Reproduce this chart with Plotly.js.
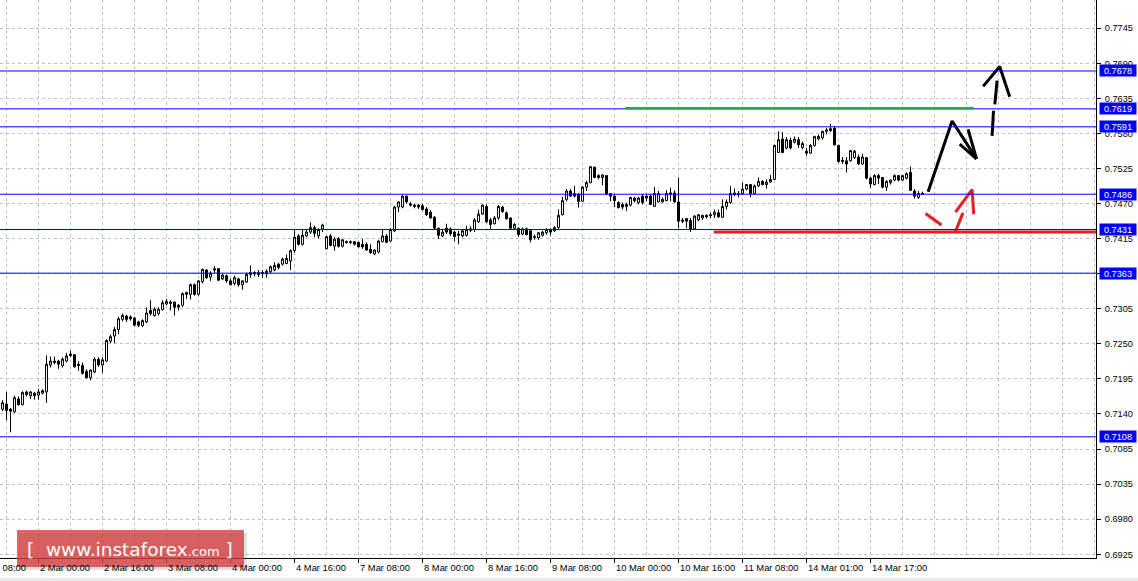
<!DOCTYPE html>
<html>
<head>
<meta charset="utf-8">
<script src="https://cdn.plot.ly/plotly-3.0.1.min.js"></script>
<style>html,body{margin:0;padding:0;background:#fff;}#chart{width:1138px;height:581px;}</style>
</head>
<body>
<div id="chart"></div>
<script>
// ---- hourly OHLC (bar 0 = 1 Mar 15:00) ----
const opens = [
0.7151,0.7159,0.7151,0.7147,0.7167,0.7158,0.7178,0.7172,0.7176,0.7173,
0.7176,0.7178,0.7220,0.7226,0.7226,0.7219,0.7226,0.7237,0.7236,0.7221,
0.7219,0.7210,0.7200,0.7209,0.7229,0.7220,0.7226,0.7257,0.7265,0.7275,
0.7291,0.7296,0.7295,0.7293,0.7287,0.7281,0.7287,0.7305,0.7297,0.7300,
0.7306,0.7315,0.7318,0.7318,0.7313,0.7313,0.7330,0.7330,0.7345,0.7330,
0.7350,0.7368,0.7357,0.7370,0.7370,0.7354,0.7359,0.7351,0.7347,0.7354,
0.7345,0.7349,0.7364,0.7364,0.7364,0.7364,0.7362,0.7365,0.7368,0.7377,
0.7377,0.7378,0.7382,0.7398,0.7421,0.7408,0.7421,0.7427,0.7434,0.7421,
0.7432,0.7401,0.7421,0.7405,0.7417,0.7405,0.7412,0.7412,0.7412,0.7411,
0.7408,0.7408,0.7400,0.7393,0.7396,0.7412,0.7421,0.7413,0.7429,0.7466,
0.7466,0.7483,0.7471,0.7469,0.7469,0.7468,0.7463,0.7458,0.7450,0.7433,
0.7421,0.7433,0.7432,0.7427,0.7424,0.7421,0.7422,0.7432,0.7431,0.7443,
0.7455,0.7467,0.7446,0.7440,0.7449,0.7466,0.7457,0.7449,0.7433,0.7433,
0.7424,0.7432,0.7429,0.7420,0.7418,0.7422,0.7426,0.7431,0.7429,0.7434,
0.7454,0.7478,0.7491,0.7487,0.7486,0.7475,0.7497,0.7504,0.7528,0.7515,
0.7512,0.7515,0.7487,0.7483,0.7473,0.7470,0.7467,0.7469,0.7480,0.7473,
0.7483,0.7480,0.7483,0.7467,0.7474,0.7474,0.7476,0.7486,0.7488,0.7474,
0.7446,0.7448,0.7445,0.7432,0.7446,0.7449,0.7453,0.7454,0.7454,0.7457,
0.7450,0.7467,0.7473,0.7488,0.7486,0.7487,0.7494,0.7501,0.7487,0.7499,
0.7506,0.7501,0.7505,0.7509,0.7551,0.7572,0.7558,0.7570,0.7567,0.7571,
0.7559,0.7553,0.7550,0.7562,0.7572,0.7574,0.7584,0.7588,0.7589,0.7562,
0.7537,0.7538,0.7538,0.7543,0.7544,0.7533,0.7543,0.7511,0.7501,0.7515,
0.7512,0.7497,0.7504,0.7508,0.7515,0.7508,0.7511,0.7520,0.7491,0.7481,
0.7486];
const highs = [
0.7165,0.7178,0.7153,0.7172,0.7171,0.7179,0.7180,0.7179,0.7178,0.7183,
0.7182,0.7235,0.7233,0.7233,0.7228,0.7232,0.7239,0.7242,0.7237,0.7226,
0.7224,0.7213,0.7213,0.7232,0.7232,0.7232,0.7260,0.7267,0.7279,0.7295,
0.7300,0.7298,0.7297,0.7295,0.7289,0.7291,0.7310,0.7321,0.7310,0.7310,
0.7321,0.7323,0.7321,0.7319,0.7315,0.7333,0.7334,0.7347,0.7347,0.7352,
0.7370,0.7369,0.7366,0.7374,0.7371,0.7363,0.7361,0.7354,0.7359,0.7356,
0.7352,0.7364,0.7375,0.7366,0.7368,0.7368,0.7369,0.7375,0.7380,0.7379,
0.7387,0.7392,0.7400,0.7431,0.7424,0.7431,0.7432,0.7442,0.7437,0.7433,
0.7440,0.7421,0.7424,0.7419,0.7419,0.7416,0.7414,0.7414,0.7413,0.7412,
0.7416,0.7411,0.7408,0.7400,0.7415,0.7431,0.7424,0.7433,0.7468,0.7475,
0.7485,0.7484,0.7474,0.7471,0.7471,0.7471,0.7466,0.7461,0.7452,0.7434,
0.7432,0.7440,0.7434,0.7429,0.7429,0.7432,0.7437,0.7436,0.7449,0.7462,
0.7470,0.7470,0.7449,0.7452,0.7469,0.7468,0.7459,0.7450,0.7441,0.7434,
0.7434,0.7434,0.7431,0.7423,0.7427,0.7429,0.7433,0.7433,0.7436,0.7462,
0.7482,0.7494,0.7494,0.7499,0.7488,0.7499,0.7507,0.7530,0.7529,0.7517,
0.7517,0.7516,0.7488,0.7486,0.7475,0.7473,0.7473,0.7482,0.7482,0.7482,
0.7486,0.7486,0.7486,0.7497,0.7491,0.7481,0.7492,0.7496,0.7492,0.7512,
0.7449,0.7449,0.7449,0.7453,0.7455,0.7454,0.7455,0.7457,0.7462,0.7462,
0.7478,0.7478,0.7499,0.7495,0.7491,0.7504,0.7502,0.7502,0.7501,0.7512,
0.7508,0.7509,0.7516,0.7563,0.7584,0.7583,0.7575,0.7574,0.7576,0.7575,
0.7568,0.7558,0.7564,0.7577,0.7579,0.7585,0.7589,0.7596,0.7592,0.7563,
0.7544,0.7544,0.7555,0.7555,0.7548,0.7549,0.7544,0.7513,0.7517,0.7518,
0.7513,0.7508,0.7509,0.7517,0.7516,0.7516,0.7520,0.7529,0.7494,0.7491,
0.7490];
const lows = [
0.7148,0.7134,0.7115,0.7145,0.7157,0.7157,0.7171,0.7167,0.7166,0.7166,
0.7174,0.7161,0.7216,0.7221,0.7214,0.7216,0.7224,0.7232,0.7216,0.7211,
0.7205,0.7199,0.7196,0.7207,0.7217,0.7208,0.7225,0.7254,0.7254,0.7268,
0.7288,0.7287,0.7289,0.7280,0.7279,0.7279,0.7285,0.7297,0.7295,0.7297,
0.7305,0.7313,0.7305,0.7297,0.7305,0.7310,0.7323,0.7322,0.7328,0.7328,
0.7347,0.7354,0.7351,0.7363,0.7351,0.7352,0.7348,0.7344,0.7344,0.7342,
0.7337,0.7348,0.7356,0.7358,0.7357,0.7356,0.7356,0.7363,0.7366,0.7369,
0.7375,0.7377,0.7368,0.7395,0.7406,0.7406,0.7419,0.7424,0.7419,0.7417,
0.7427,0.7400,0.7405,0.7398,0.7403,0.7403,0.7409,0.7408,0.7406,0.7403,
0.7401,0.7398,0.7393,0.7391,0.7394,0.7411,0.7410,0.7412,0.7427,0.7458,
0.7464,0.7471,0.7467,0.7464,0.7463,0.7461,0.7452,0.7448,0.7432,0.7416,
0.7419,0.7424,0.7421,0.7413,0.7408,0.7419,0.7420,0.7427,0.7427,0.7441,
0.7454,0.7441,0.7432,0.7439,0.7446,0.7457,0.7446,0.7432,0.7431,0.7420,
0.7422,0.7422,0.7411,0.7415,0.7415,0.7420,0.7423,0.7422,0.7427,0.7432,
0.7453,0.7475,0.7482,0.7481,0.7465,0.7474,0.7491,0.7503,0.7511,0.7509,
0.7500,0.7485,0.7475,0.7466,0.7464,0.7462,0.7460,0.7467,0.7473,0.7470,
0.7470,0.7475,0.7469,0.7466,0.7473,0.7473,0.7475,0.7475,0.7473,0.7433,
0.7441,0.7433,0.7427,0.7431,0.7444,0.7446,0.7448,0.7449,0.7449,0.7449,
0.7449,0.7462,0.7471,0.7483,0.7481,0.7485,0.7492,0.7481,0.7486,0.7497,
0.7500,0.7495,0.7504,0.7508,0.7550,0.7550,0.7556,0.7556,0.7565,0.7558,
0.7556,0.7546,0.7549,0.7560,0.7570,0.7571,0.7579,0.7583,0.7562,0.7535,
0.7533,0.7520,0.7537,0.7541,0.7532,0.7532,0.7509,0.7496,0.7500,0.7502,
0.7495,0.7491,0.7501,0.7506,0.7506,0.7507,0.7509,0.7491,0.7479,0.7479,
0.7485];
const closes = [
0.7161,0.7149,0.7148,0.7169,0.7158,0.7177,0.7174,0.7178,0.7172,0.7178,
0.7180,0.7221,0.7226,0.7224,0.7221,0.7229,0.7234,0.7235,0.7217,0.7219,
0.7207,0.7200,0.7212,0.7229,0.7220,0.7228,0.7258,0.7264,0.7275,0.7292,
0.7297,0.7291,0.7292,0.7282,0.7282,0.7289,0.7301,0.7300,0.7307,0.7307,
0.7317,0.7319,0.7316,0.7310,0.7310,0.7331,0.7333,0.7345,0.7330,0.7351,
0.7369,0.7356,0.7363,0.7368,0.7352,0.7360,0.7351,0.7345,0.7356,0.7345,
0.7351,0.7361,0.7361,0.7362,0.7361,0.7362,0.7366,0.7373,0.7375,0.7372,
0.7385,0.7386,0.7398,0.7419,0.7408,0.7422,0.7427,0.7434,0.7425,0.7431,
0.7438,0.7420,0.7406,0.7416,0.7405,0.7415,0.7411,0.7411,0.7408,0.7404,
0.7404,0.7399,0.7395,0.7399,0.7413,0.7421,0.7411,0.7431,0.7466,0.7474,
0.7483,0.7474,0.7469,0.7467,0.7466,0.7462,0.7454,0.7449,0.7433,0.7422,
0.7427,0.7427,0.7424,0.7420,0.7422,0.7429,0.7431,0.7430,0.7446,0.7455,
0.7469,0.7443,0.7439,0.7449,0.7467,0.7459,0.7448,0.7433,0.7439,0.7423,
0.7432,0.7423,0.7415,0.7419,0.7426,0.7427,0.7431,0.7427,0.7434,0.7453,
0.7476,0.7491,0.7483,0.7483,0.7475,0.7497,0.7504,0.7529,0.7512,0.7512,
0.7516,0.7487,0.7483,0.7476,0.7465,0.7466,0.7470,0.7481,0.7476,0.7480,
0.7473,0.7483,0.7470,0.7487,0.7487,0.7478,0.7487,0.7488,0.7474,0.7444,
0.7444,0.7444,0.7432,0.7452,0.7454,0.7453,0.7451,0.7453,0.7458,0.7451,
0.7467,0.7474,0.7487,0.7486,0.7487,0.7494,0.7501,0.7487,0.7499,0.7506,
0.7501,0.7505,0.7509,0.7562,0.7571,0.7551,0.7571,0.7558,0.7572,0.7563,
0.7565,0.7550,0.7562,0.7576,0.7576,0.7584,0.7586,0.7585,0.7563,0.7537,
0.7539,0.7533,0.7554,0.7553,0.7533,0.7544,0.7511,0.7502,0.7515,0.7511,
0.7497,0.7506,0.7508,0.7515,0.7508,0.7515,0.7518,0.7492,0.7483,0.7487,
0.7487];

// ---- time axis labels (bar index of each label) ----
const timeLabels = ['1 Mar 08:00','2 Mar 00:00','2 Mar 16:00','3 Mar 08:00','4 Mar 00:00','4 Mar 16:00',
  '7 Mar 08:00','8 Mar 00:00','8 Mar 16:00','9 Mar 08:00','10 Mar 00:00','10 Mar 16:00',
  '11 Mar 08:00','14 Mar 01:00','14 Mar 17:00'];
const timeLabelBars = [-7,9,25,41,57,73,89,105,121,137,153,169,185,201,217];

// ---- price axis labels ----
const priceLabels = ['0.6925','0.6980','0.7035','0.7085','0.7140','0.7195','0.7250','0.7305',
  '0.7360','0.7415','0.7470','0.7525','0.7580','0.7635','0.7690','0.7745'];

// ---- horizontal levels ----
const levels = [0.7678, 0.7619, 0.7591, 0.7486, 0.7431, 0.7363, 0.7108];
const greenLevel = {from: 155.6, to: 242.8, price: 0.7620};
const redLevel = {from: 177.8, price: 0.7427};

// ---- hand-drawn forecast arrows (bar index, price) ----
const blackArrowX = [231.4, 237.4, 243.5, null, 239.3, 243.5, null, 241.4, 243.5];
const blackArrowY = [0.7490, 0.7600, 0.7541, null, 0.7564, 0.7541, null, 0.7587, 0.7541];
const dashArrowX = [247.4, 247.75, null, 248.08, 248.65, null, 245.15, 249.3, 251.8];
const dashArrowY = [0.7577, 0.7616, null, 0.7626, 0.7663, null, 0.7654, 0.7685, 0.7638];
const redArrowX = [230.75, 234.75, null, 238.25, 240.1, null, 238.25, 242.4, 242.8];
const redArrowY = [0.7456, 0.7438, null, 0.7428, 0.7457, null, 0.7458, 0.7493, 0.7455];

// ---------------------------------------------------------------
const bars = opens.map((_, k) => k);
const XR = [-0.625, 273.375];
const YR = [0.69192, 0.77886];
const GRID = '#c0c0c0';
const FONT = 'Liberation Sans, Arial, sans-serif';

const yTickVals = priceLabels.map((_, k) => 0.6925 + k * (0.7690 - 0.6925) / 14);

const traces = [
  {
    type: 'candlestick', x: bars, open: opens, high: highs, low: lows, close: closes,
    increasing: {line: {color: '#000', width: 1}, fillcolor: '#fff'},
    decreasing: {line: {color: '#000', width: 1}, fillcolor: '#000'},
    whiskerwidth: 0, hoverinfo: 'skip', showlegend: false
  },
  {type: 'scatter', mode: 'lines', x: blackArrowX, y: blackArrowY, connectgaps: false,
   line: {color: '#000', width: 3}, hoverinfo: 'skip', showlegend: false},
  {type: 'scatter', mode: 'lines', x: dashArrowX, y: dashArrowY, connectgaps: false,
   line: {color: '#000', width: 3}, hoverinfo: 'skip', showlegend: false},
  {type: 'scatter', mode: 'lines', x: redArrowX, y: redArrowY, connectgaps: false,
   line: {color: '#ec1c24', width: 3}, hoverinfo: 'skip', showlegend: false}
];

const shapes = [];
levels.forEach(v => shapes.push({type: 'line', xref: 'paper', x0: 0, x1: 1, yref: 'y', y0: v, y1: v,
  line: {color: '#0000ff', width: 1}, layer: 'above'}));
shapes.push({type: 'line', xref: 'x', x0: greenLevel.from, x1: greenLevel.to, yref: 'y',
  y0: greenLevel.price, y1: greenLevel.price, line: {color: '#2ca84a', width: 2.5}, layer: 'above'});
shapes.push({type: 'line', xref: 'x', x0: redLevel.from, x1: XR[1], yref: 'y',
  y0: redLevel.price, y1: redLevel.price, line: {color: '#ec1c24', width: 3}, layer: 'above'});
// logo box (shadow + box) in paper units of the 1096x558 plot area
shapes.push({type: 'rect', xref: 'paper', yref: 'paper', x0: 19/1096, x1: 247/1096, y0: 1 - 570/558, y1: 1 - 533/558,
  fillcolor: 'rgba(0,0,0,0.12)', line: {width: 0}, layer: 'above'});
shapes.push({type: 'rect', xref: 'paper', yref: 'paper', x0: 17/1096, x1: 244/1096, y0: 1 - 567/558, y1: 1 - 530/558,
  fillcolor: 'rgba(214,62,62,0.8)', line: {width: 0}, layer: 'above'});
// light strip at the bottom of the window
shapes.push({type: 'rect', xref: 'paper', yref: 'paper', x0: 0, x1: 1138/1096, y0: 1 - 581/558, y1: 1 - 578/558,
  fillcolor: '#ececec', line: {width: 0}, layer: 'above'});

const annotations = [];
timeLabels.forEach((t, k) => annotations.push({
  xref: 'paper', x: (timeLabelBars[k] - XR[0]) / (XR[1] - XR[0]), xanchor: 'left', xshift: -1,
  yref: 'paper', y: 1 - 567.5/558, yanchor: 'middle', text: t, showarrow: false,
  font: {family: FONT, size: 9.4, color: '#000'}
}));
levels.forEach(v => annotations.push({
  xref: 'paper', x: 1, xanchor: 'left', xshift: 3, yref: 'y', y: v, yanchor: 'middle',
  text: v.toFixed(4), showarrow: false, bgcolor: '#0000ff', borderpad: 1, width: 34, height: 9,
  align: 'center', valign: 'middle', font: {family: FONT, size: 9.2, color: '#fff'}
}));
annotations.push({
  xref: 'paper', x: 130/1096, xanchor: 'center', yref: 'paper', y: 1 - 549/558, yanchor: 'middle',
  showarrow: false,
  text: '[&nbsp;&nbsp;www.instaforex<span style="font-size:13px">.com</span>&nbsp;]',
  font: {family: 'DejaVu Sans, Verdana, sans-serif', size: 18.5, color: '#fff'}
});

const layout = {
  width: 1138, height: 581,
  margin: {l: 0, r: 42, t: 0, b: 23, pad: 0},
  paper_bgcolor: '#fff', plot_bgcolor: '#fff',
  showlegend: false,
  xaxis: {
    type: 'linear', range: XR, fixedrange: true, zeroline: false,
    tickmode: 'array', tickvals: timeLabelBars, showticklabels: false,
    ticks: 'outside', ticklen: 4, tickcolor: '#000', tickwidth: 1,
    showgrid: true, gridcolor: GRID, griddash: '3px,3px', gridwidth: 1,
    minor: {tick0: 1, dtick: 8, showgrid: true, gridcolor: GRID, griddash: '3px,3px', gridwidth: 1, ticks: ''},
    showline: true, linecolor: '#000', linewidth: 1,
    rangeslider: {visible: false}
  },
  yaxis: {
    side: 'right', range: YR, fixedrange: true, zeroline: false,
    tickmode: 'array', tickvals: yTickVals, ticktext: priceLabels,
    ticks: 'outside', ticklen: 4, tickcolor: '#000', tickwidth: 1, ticklabelstandoff: 2,
    tickfont: {family: FONT, size: 9.2, color: '#000'},
    showgrid: true, gridcolor: GRID, griddash: '3px,3px', gridwidth: 1,
    showline: true, linecolor: '#000', linewidth: 1
  },
  shapes: shapes,
  annotations: annotations
};

Plotly.newPlot('chart', traces, layout, {staticPlot: true, displayModeBar: false});
</script>
</body>
</html>
